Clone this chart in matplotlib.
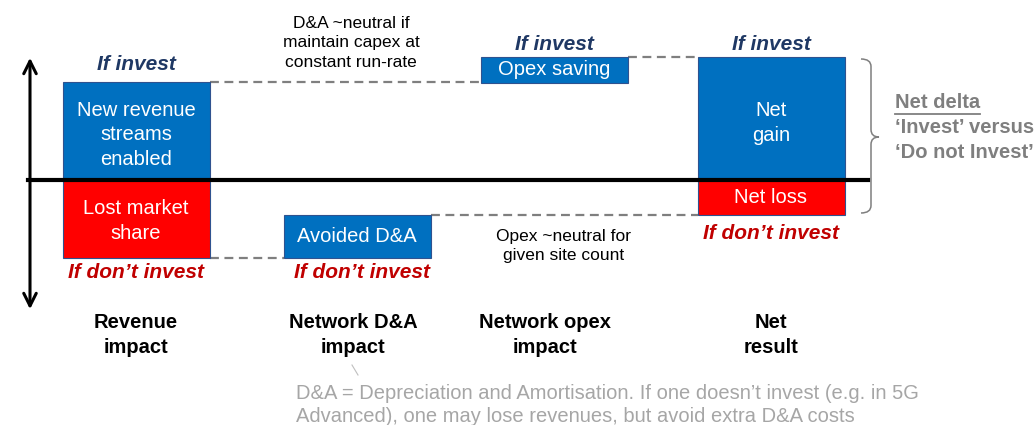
import matplotlib.pyplot as plt
from matplotlib.patches import PathPatch
from matplotlib.path import Path

plt.rcParams['font.family'] = ['Liberation Sans', 'DejaVu Sans']

# waterfall values (arbitrary units, 0 = baseline)
categories = ['Revenue\nimpact', 'Network D&A\nimpact', 'Network opex\nimpact', 'Net\nresult']
invest_steps = [3.9, 0.0, 1.0]        # revenue gain, D&A ~neutral, opex saving
no_invest_steps = [-3.1, 1.7, 0.0]    # lost share, avoided D&A, opex ~neutral
step_labels = ['New revenue\nstreams\nenabled', 'Avoided D&A', 'Opex saving']
loss_label = 'Lost market\nshare'
net_gain = sum(invest_steps)
net_loss = sum(no_invest_steps)

BLUE = '#0070C0'
RED = '#FF0000'
EDGE = '#2F528F'
NAVY = '#1F3864'
DRED = '#C00000'
GREY = '#7F7F7F'

FS = 14.5
LS = 1.37

# layout: x in pixels, y in value units (25 px per unit, baseline at 180 px)
centers = [136, 357, 554, 771]
width = 147
def yv(px):
    return (180 - px) / 25.0

fig = plt.figure(figsize=(10.34, 4.25), dpi=100)
ax = fig.add_axes([0, 0, 1, 1])
ax.set_xlim(0, 1034)
ax.set_ylim(yv(425), yv(0))
ax.axis('off')

txt = dict(ha='center', va='center', fontsize=FS, linespacing=LS)

# revenue column
ax.bar(centers[0], invest_steps[0], width, bottom=0, color=BLUE, edgecolor=EDGE, lw=0.8, zorder=2)
ax.bar(centers[0], no_invest_steps[0], width, bottom=0, color=RED, edgecolor=EDGE, lw=0.8, zorder=2)
ax.text(centers[0], yv(135), step_labels[0], color='white', **txt)
ax.text(centers[0], yv(221), loss_label, color='white', **txt)

# D&A column (floating on the don't-invest path)
da_bottom = no_invest_steps[0]
da_top = da_bottom + no_invest_steps[1]
ax.bar(centers[1], no_invest_steps[1], width, bottom=da_bottom, color=BLUE, edgecolor=EDGE, lw=0.8, zorder=2)
ax.text(centers[1], (da_bottom + da_top) / 2, step_labels[1], color='white', **txt)

# opex column (floating on the invest path)
op_bottom = invest_steps[0] + invest_steps[1]
op_top = op_bottom + invest_steps[2]
ax.bar(centers[2], invest_steps[2], width, bottom=op_bottom, color=BLUE, edgecolor=EDGE, lw=0.8, zorder=2)
ax.text(centers[2], (op_bottom + op_top) / 2, step_labels[2], color='white', **txt)

# net column
ax.bar(centers[3], net_gain, width, bottom=0, color=BLUE, edgecolor=EDGE, lw=0.8, zorder=2)
ax.bar(centers[3], net_loss, width, bottom=0, color=RED, edgecolor=EDGE, lw=0.8, zorder=2)
ax.text(centers[3], yv(123), 'Net\ngain', color='white', **txt)
ax.text(centers[3], net_loss / 2, 'Net loss', color='white', **txt)

# connectors
half = width / 2
dash = dict(color=GREY, lw=1.6, ls=(0, (4, 2.5)), zorder=1)
ax.plot([centers[0] + half, centers[2] - half], [invest_steps[0]] * 2, **dash)
ax.plot([centers[2] + half, centers[3] - half], [op_top] * 2, **dash)
ax.plot([centers[0] + half, centers[1] - half], [da_bottom] * 2, **dash)
ax.plot([centers[1] + half, centers[3] - half], [da_top] * 2, **dash)

# baseline and vertical axis arrow
ax.plot([28, 868], [0, 0], color='black', lw=3, zorder=3)
ax.annotate('', xy=(30, yv(55)), xytext=(30, yv(312)),
            arrowprops=dict(arrowstyle='<->,head_length=0.9,head_width=0.45', lw=2.2, color='black'))

# if invest / if don't invest tags
inv = dict(ha='center', va='center', fontsize=15, fontweight='bold', style='italic')
ax.text(centers[0], yv(64), 'If invest', color=NAVY, **inv)
ax.text(centers[2], yv(45), 'If invest', color=NAVY, **inv)
ax.text(centers[3], yv(45), 'If invest', color=NAVY, **inv)
ax.text(centers[0], yv(273), 'If don\u2019t invest', color=DRED, **inv)
ax.text(centers[1] + 5, yv(273), 'If don\u2019t invest', color=DRED, **inv)
ax.text(centers[3], yv(234), 'If don\u2019t invest', color=DRED, **inv)

# notes
ax.text(351, yv(43), 'D&A ~neutral if\nmaintain capex at\nconstant run-rate', linespacing=1.4,
        ha='center', va='center', fontsize=12.5)
ax.text(564, yv(246), 'Opex ~neutral for\ngiven site count', linespacing=1.4,
        ha='center', va='center', fontsize=12.5)

# category labels
for c, lab in zip([136, 353, 545, 771], categories):
    ax.text(c, yv(335), lab, ha='center', va='center', fontsize=FS, fontweight='bold', linespacing=LS)

# brace
bx, by0, by1, tip = 861, yv(59), yv(213), yv(137)
verts = [(bx, by0), (bx + 10, by0), (bx + 10, by0 - 0.3), (bx + 10, by0 - 0.6),
         (bx + 10, tip + 0.3), (bx + 10, tip), (bx + 18, tip),
         (bx + 10, tip), (bx + 10, tip - 0.3), (bx + 10, by1 + 0.6),
         (bx + 10, by1 + 0.3), (bx + 10, by1), (bx, by1)]
codes = [Path.MOVETO, Path.CURVE3, Path.CURVE3, Path.LINETO,
         Path.LINETO, Path.CURVE3, Path.CURVE3,
         Path.CURVE3, Path.CURVE3, Path.LINETO,
         Path.LINETO, Path.CURVE3, Path.CURVE3]
ax.add_patch(PathPatch(Path(verts, codes), fill=False, edgecolor=GREY, lw=1.1))

ax.text(895, yv(103), 'Net delta', color=GREY, fontsize=FS, fontweight='bold', ha='left', va='center')
ax.plot([895, 980], [yv(114)] * 2, color=GREY, lw=1.3)
ax.text(895, yv(140), '\u2018Invest\u2019 versus\n\u2018Do not Invest\u2019', color=GREY, fontsize=FS,
        fontweight='bold', ha='left', va='center', linespacing=LS)

# footnote
ax.plot([352, 358], [yv(365), yv(375)], color='#BFBFBF', lw=0.8)
ax.text(296, yv(405), 'D&A = Depreciation and Amortisation. If one doesn\u2019t invest (e.g. in 5G\n'
        'Advanced), one may lose revenues, but avoid extra D&A costs',
        color='#A6A6A6', fontsize=FS, ha='left', va='center', linespacing=1.28)

fig.savefig('out.png', dpi=100)
